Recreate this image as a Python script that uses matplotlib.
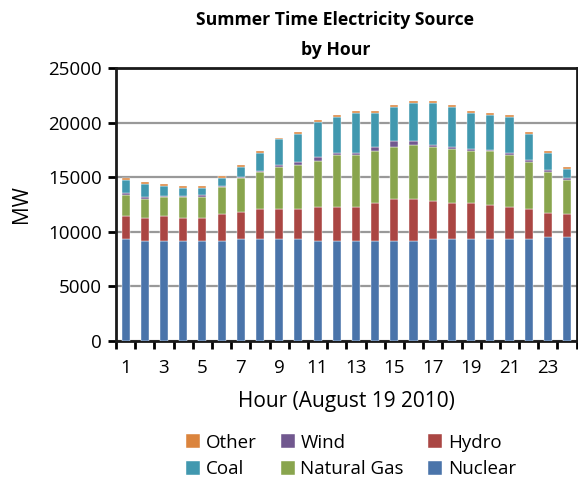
import matplotlib
matplotlib.use('Agg')
import matplotlib.pyplot as plt
import numpy as np

# hourly generation by source, MW
hours = list(range(1, 25))
nuclear = [9360, 9170, 9170, 9170, 9170, 9170, 9360, 9360, 9360, 9360, 9170, 9170,
           9170, 9170, 9170, 9170, 9360, 9360, 9360, 9360, 9360, 9360, 9510, 9510]
hydro = [2110, 2085, 2300, 2085, 2085, 2450, 2420, 2725, 2725, 2725, 3100, 3100,
         3100, 3470, 3830, 3830, 3460, 3280, 3280, 3095, 2910, 2725, 2235, 2110]
natural_gas = [1900, 1745, 1715, 1930, 1930, 2460, 3155, 3405, 3865, 4075, 4230, 4755,
               4755, 4750, 4760, 4910, 4940, 4935, 4750, 4935, 4780, 4260, 3715, 3160]
wind = [185, 185, 125, 60, 185, 150, 60, 60, 190, 185, 370, 185,
        185, 340, 520, 370, 150, 155, 155, 60, 160, 185, 180, 155]
coal = [1225, 1230, 890, 805, 680, 740, 955, 1660, 2330, 2645, 3160, 3310,
        3680, 3160, 3130, 3495, 3865, 3680, 3345, 3250, 3310, 2460, 1570, 825]
other = [190, 185, 180, 180, 180, 150, 210, 210, 150, 180, 190, 180,
         180, 180, 180, 185, 185, 180, 180, 190, 180, 160, 180, 190]

series = [
    ('Nuclear', nuclear, '#4a74aa'),
    ('Hydro', hydro, '#aa4643'),
    ('Natural Gas', natural_gas, '#89a54e'),
    ('Wind', wind, '#71588f'),
    ('Coal', coal, '#4198af'),
    ('Other', other, '#db843d'),
]

plt.rcParams['font.family'] = ['Open Sans', 'DejaVu Sans']

fig = plt.figure(figsize=(5.78, 4.8), dpi=100)
ax = fig.add_axes([0.2007, 0.2896, 0.797, 0.5688])

x = np.arange(len(hours))
bottom = np.zeros(len(hours))
handles = {}
for name, vals, color in series:
    vals = np.array(vals, dtype=float)
    h = ax.bar(x, vals, width=0.42, bottom=bottom, color=color,
               edgecolor='white', linewidth=0.3, zorder=3)
    handles[name] = h
    bottom += vals

ax.set_xlim(-0.5, len(hours) - 0.5)
ax.set_ylim(0, 25000)
ax.set_yticks(np.arange(0, 25001, 5000))
ax.yaxis.grid(True, color='#999999', linewidth=1.6, zorder=0)
ax.tick_params(axis='y', direction='out', length=6, width=2, labelsize=13.5, pad=4)

ax.set_xticks(x[::2])
ax.set_xticklabels([str(h) for h in hours[::2]])
ax.set_xticks(np.arange(-0.5, len(hours)), minor=True)
ax.tick_params(axis='x', which='major', length=0, labelsize=13.5, pad=13)
ax.tick_params(axis='x', which='minor', direction='out', length=6, width=2)

for sp in ax.spines.values():
    sp.set_linewidth(2)
    sp.set_color('#1a1a1a')

ax.set_ylabel('MW', fontsize=15, labelpad=12)
ax.set_xlabel('Hour (August 19 2010)', fontsize=15, labelpad=10)
ax.set_title('Summer Time Electricity Source\nby Hour', fontsize=12.7,
             fontweight='bold', linespacing=1.9, pad=9, x=0.476)

order = ['Other', 'Coal', 'Wind', 'Natural Gas', 'Hydro', 'Nuclear']
fig.legend([handles[n] for n in order], order, ncol=3, loc='center',
           bbox_to_anchor=(0.607, 0.05), frameon=False, fontsize=13.5,
           handlelength=0.75, handleheight=0.75, handletextpad=0.3,
           columnspacing=1.3, labelspacing=0.45)

fig.savefig('out.png', dpi=100)
